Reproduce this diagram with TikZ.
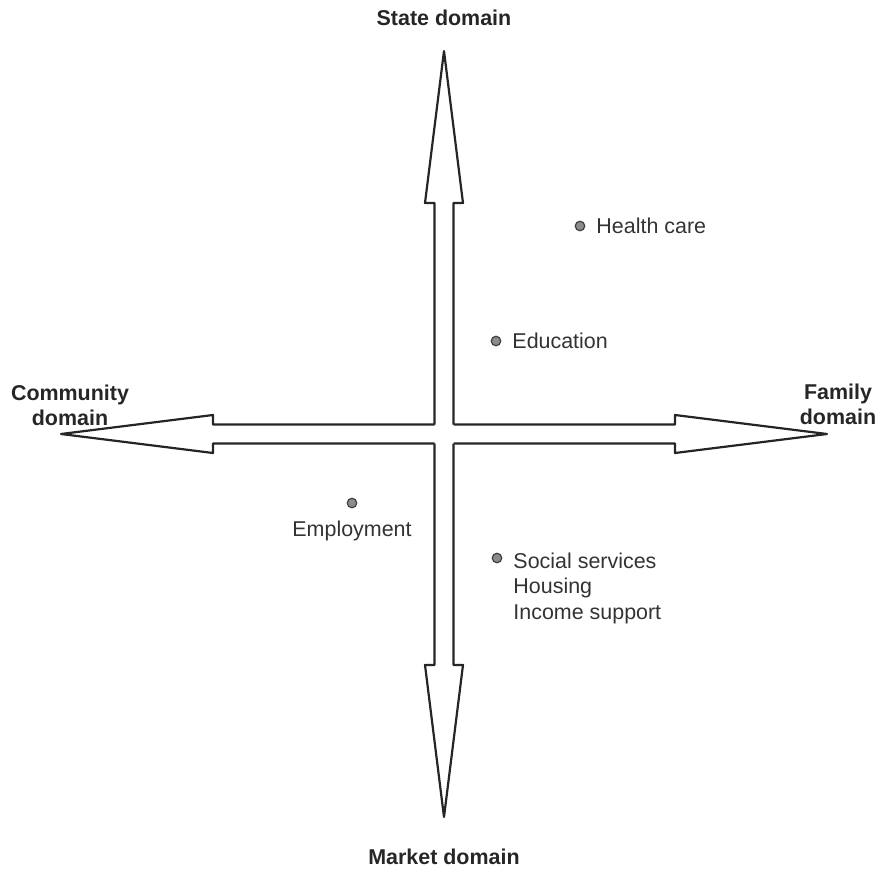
\documentclass[tikz,border=0pt]{standalone}
\usepackage{fontspec}
\setmainfont{Liberation Sans}
\usetikzlibrary{positioning}
\tikzset{
  dom/.style={font=\fontsize{12.2}{14.4}\selectfont\bfseries, align=center, text=black!85, inner sep=0pt},
  item/.style={text=black!80, align=left, inner sep=0pt},
  spot/.style={circle, draw=black!75, fill=black!45, line width=0.7pt, minimum size=0.19cm, inner sep=0pt},
}
\begin{document}
\begin{tikzpicture}[line width=1.25pt, font=\fontsize{12.2}{14.6}\selectfont]
\useasboundingbox (-8.88,-8.72) rectangle (8.64,8.68);
% the four arms of the cross
\foreach \a in {0,90,180,270} {
        \draw[black!85, line join=round, rotate=\a] (0.19,0.19) -- (4.62,0.19) -- (4.62,0.38)
            -- (7.66,0) -- (4.62,-0.38) -- (4.62,-0.19) -- (0.19,-0.19);
    }
\node[dom] (state) at (0,8.32) {State domain};
\node[dom] (market) at (0,-8.46) {Market domain};
\node[dom] (community) at (-7.48,0.58) {Community\\domain};
\node[dom] (family) at (7.88,0.6) {Family\\domain};
% services
\node[spot] (health) at (2.72,4.16) {};
\node[item, right=0.2cm of health] (healthlbl) {Health care};
\node[spot] (edu) at (1.04,1.86) {};
\node[item, right=0.2cm of edu] (edulbl) {Education};
\node[spot] (emp) at (-1.84,-1.38) {};
\node[item, below=0.23cm of emp] (emplbl) {Employment};
\node[spot] (social) at (1.06,-2.48) {};
\node[item, anchor=north west] (sociallbl) at ([xshift=0.2cm,yshift=0.13cm]social.east)
    {Social services\\Housing\\Income support};
\end{tikzpicture}
\end{document}
